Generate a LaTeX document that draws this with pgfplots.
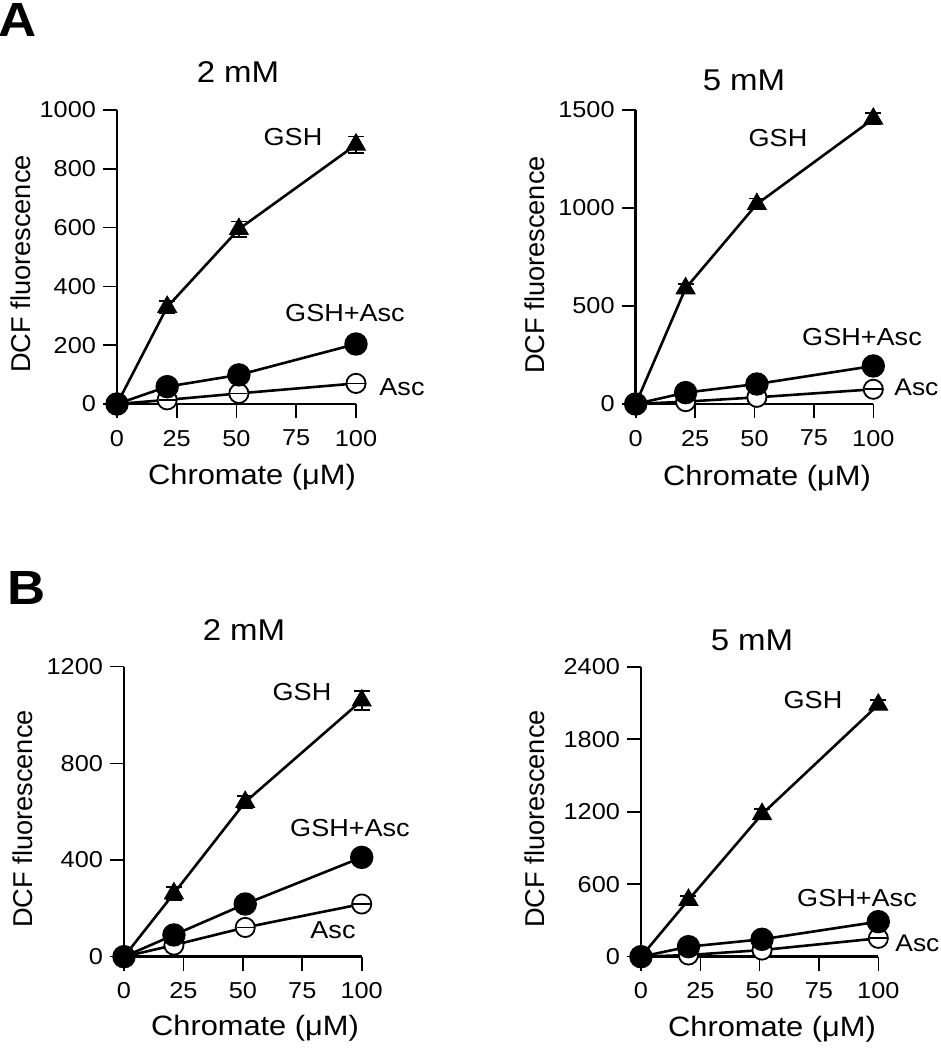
\documentclass[border=0pt]{standalone}
\usepackage{fontspec}
\setmainfont{Liberation Sans}[FakeStretch=1.1]
\newfontfamily\ylabfont{Liberation Sans}
\usepackage{pgfplots}
\pgfplotsset{compat=1.18}
\pgfplotsset{
  panel/.style={
    scale only axis,
    axis lines*=left,
    axis line style={-, line width=1.4pt},
    every tick/.style={line width=0.8pt, black},
    major tick length=7pt,
    tick align=outside,
    xmin=0, xmax=100, ymin=0,
    xtick={0,25,50,75,100},
    clip=false,
    tick label style={font=\fontsize{11.5}{13}\selectfont},
    x tick label style={yshift=-2.5pt},
    /pgf/number format/assume math mode=true,
    /pgf/number format/set thousands separator={},
    scaled y ticks=false,
    anchor=south west,
  },
  gsh/.style={black, line width=1.3pt, mark=triangle*, mark size=5.4pt,
    mark options={solid, fill=black, line width=0.5pt},
    error bars/.cd, y dir=both, y explicit,
    error bar style={line width=0.9pt},
    error mark options={rotate=90, mark size=4pt, line width=0.9pt}},
  gshasc/.style={black, line width=1.3pt, mark=*, mark size=5.2pt,
    mark options={solid, fill=black}},
  asc/.style={black, line width=1.3pt, mark=*, mark size=4.8pt,
    mark options={solid, fill=white, line width=0.9pt}},
  ascerr/.style={forget plot, black, only marks, mark=-, mark size=4.3pt,
    mark options={solid, line width=0.9pt}},
}
\begin{document}
\begin{tikzpicture}
\useasboundingbox (0,0) rectangle (470.5pt,525pt);
% ---------- A left ----------
\begin{axis}[panel, at={(58.5pt,323pt)}, width=119.5pt, height=147pt,
  ymax=1000, ytick={0,200,400,600,800,1000}]
\addplot[asc] coordinates {(0,0) (21,14) (51,36) (100,70)};
\addplot[ascerr] coordinates {(21,14) (51,36) (100,70)};
\addplot[gshasc] coordinates {(0,0) (21,59) (51,99) (100,204)};
\addplot[gsh] coordinates {(0,0) +- (0,0) (21,330) +- (0,20) (51,595) +- (0,26) (100,882) +- (0,28)};
\end{axis}
% ---------- A right ----------
\begin{axis}[panel, at={(317.85pt,323pt)}, width=118.8pt, height=147pt,
  ymax=1500, ytick={0,500,1000,1500}]
\addplot[asc] coordinates {(0,0) (21,12) (51,34) (100,75)};
\addplot[ascerr] coordinates {(100,75)};
\addplot[gshasc] coordinates {(0,0) (21,58) (51,102) (100,194)};
\addplot[gsh] coordinates {(0,0) +- (0,0) (21,590) +- (0,22) (51,1020) +- (0,28) (100,1455) +- (0,28)};
\end{axis}
% ---------- B left ----------
\begin{axis}[panel, at={(62pt,46.65pt)}, width=118.85pt, height=145pt,
  ymax=1200, ytick={0,400,800,1200}]
\addplot[asc] coordinates {(0,0) (21,48) (51,121) (100,218)};
\addplot[ascerr] coordinates {(51,121) (100,218)};
\addplot[gshasc] coordinates {(0,0) (21,90) (51,218) (100,411)};
\addplot[gsh] coordinates {(0,0) +- (0,0) (21,262) +- (0,28) (51,640) +- (0,25) (100,1060) +- (0,38)};
\end{axis}
% ---------- B right ----------
\begin{axis}[panel, at={(320.5pt,46.65pt)}, width=118.65pt, height=145pt,
  ymax=2400, ytick={0,600,1200,1800,2400}]
\addplot[asc] coordinates {(0,0) (20,14) (51,55) (100,152)};
\addplot[ascerr] coordinates {(100,152)};
\addplot[gshasc] coordinates {(0,0) (20,83) (51,144) (100,290)};
\addplot[gsh] coordinates {(0,0) +- (0,0) (20,470) +- (0,30) (51,1180) +- (0,40) (100,2085) +- (0,38)};
\end{axis}
% ---------- texts (pixel coordinates) ----------
\begin{scope}[x=0.5pt, y=-0.5pt, shift={(0pt,525pt)}]
\node[font=\fontsize{24}{26}\selectfont\bfseries] at (18,20) {A};
\node[font=\fontsize{24}{26}\selectfont\bfseries] at (27,588) {B};
% titles
\node[font=\fontsize{15}{17}\selectfont] at (238,72) {2 mM};
\node[font=\fontsize{15}{17}\selectfont] at (744,80) {5 mM};
\node[font=\fontsize{15}{17}\selectfont] at (244,630) {2 mM};
\node[font=\fontsize{15}{17}\selectfont] at (752,640) {5 mM};
% x labels
\node[font=\fontsize{14}{16}\selectfont] at (252,477) {Chromate (μM)};
\node[font=\fontsize{14}{16}\selectfont] at (767,478) {Chromate (μM)};
\node[font=\fontsize{14}{16}\selectfont] at (255,1028) {Chromate (μM)};
\node[font=\fontsize{14}{16}\selectfont] at (772,1029) {Chromate (μM)};
% y labels
\node[rotate=90, font=\ylabfont\fontsize{13.6}{15}\selectfont] at (21,264) {DCF fluorescence};
\node[rotate=90, font=\ylabfont\fontsize{13.6}{15}\selectfont] at (535,265) {DCF fluorescence};
\node[rotate=90, font=\ylabfont\fontsize{13.6}{15}\selectfont] at (23,819) {DCF fluorescence};
\node[rotate=90, font=\ylabfont\fontsize{13.6}{15}\selectfont] at (535,819) {DCF fluorescence};
% series labels
\node[font=\fontsize{12.3}{14}\selectfont] at (293,137) {GSH};
\node[font=\fontsize{12.3}{14}\selectfont] at (345,313) {GSH+Asc};
\node[font=\fontsize{12.3}{14}\selectfont] at (402,387) {Asc};
\node[font=\fontsize{12.3}{14}\selectfont] at (778,138) {GSH};
\node[font=\fontsize{12.3}{14}\selectfont] at (862,337) {GSH+Asc};
\node[font=\fontsize{12}{14}\selectfont, anchor=west, inner sep=0pt] at (894,387) {Asc};
\node[font=\fontsize{12.3}{14}\selectfont] at (302,692) {GSH};
\node[font=\fontsize{12.3}{14}\selectfont] at (350,828) {GSH+Asc};
\node[font=\fontsize{12.3}{14}\selectfont] at (333,930) {Asc};
\node[font=\fontsize{12.3}{14}\selectfont] at (813,700) {GSH};
\node[font=\fontsize{12.3}{14}\selectfont] at (857,898) {GSH+Asc};
\node[font=\fontsize{12}{14}\selectfont, anchor=west, inner sep=0pt] at (895,943) {Asc};
\end{scope}
\end{tikzpicture}
\end{document}
